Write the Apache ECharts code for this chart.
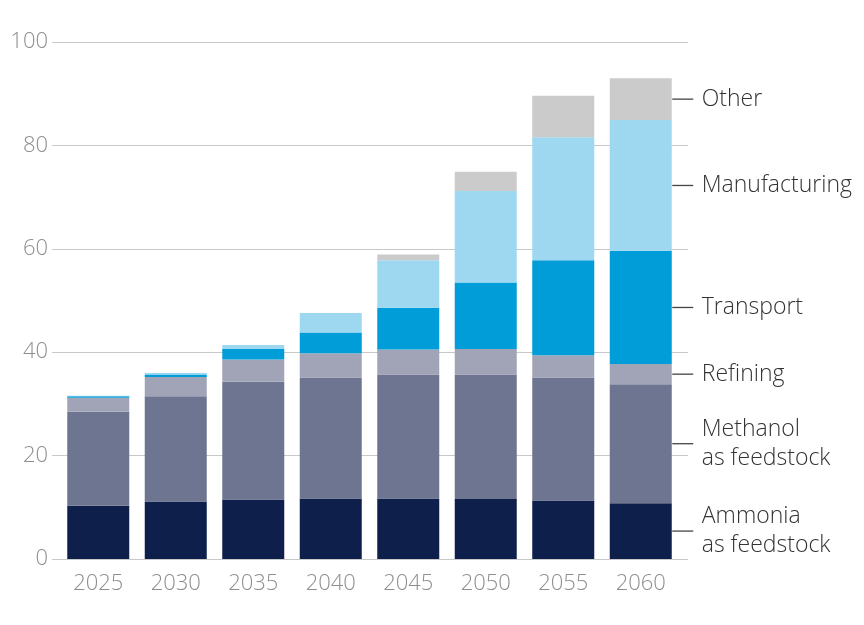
<!DOCTYPE html>
<html>
<head>
<meta charset="utf-8">
<script src="https://cdn.jsdelivr.net/npm/echarts@6/dist/echarts.min.js"></script>
<style>
html,body{margin:0;padding:0;background:#fff;}
#chart{width:864px;height:625px;}
</style>
</head>
<body>
<div id="chart"></div>
<script>
const years = ['2025','2030','2035','2040','2045','2050','2055','2060'];
const ammonia       = [10.3, 11.1, 11.5, 11.7, 11.7, 11.6, 11.3, 10.8];
const methanol      = [18.2, 20.4, 22.8, 23.4, 24.0, 24.1, 23.8, 23.0];
const refining      = [2.7, 3.7, 4.3, 4.7, 4.8, 4.9, 4.3, 3.9];
const transport     = [0.3, 0.5, 2.0, 4.0, 8.1, 12.9, 18.4, 21.9];
const manufacturing = [0.1, 0.3, 0.8, 3.8, 9.2, 17.7, 23.8, 25.3];
const other         = [0, 0, 0, 0, 1.1, 3.7, 8.0, 8.1];
const seriesNames = ['Ammonia\nas feedstock','Methanol\nas feedstock','Refining','Transport','Manufacturing','Other'];
const yTicks = [0, 20, 40, 60, 80, 100];

const seriesData = [ammonia, methanol, refining, transport, manufacturing, other];
const colors = ['#0f1f4b', '#6e7591', '#a0a4b6', '#009dd9', '#9dd8f0', '#cccbcb'];
const FONT = '"Open Sans", "Noto Sans", sans-serif';

const last = years.length - 1;
let cum = 0;
const labelData = seriesData.map((arr, i) => {
  const v = arr[last];
  const mid = cum + v / 2;
  cum += v;
  return [last, mid, i];
});

const barSeries = seriesData.map((arr, i) => ({
  type: 'bar',
  name: seriesNames[i],
  stack: 'total',
  xAxisIndex: 1,
  yAxisIndex: 1,
  barWidth: '80%',
  itemStyle: { color: colors[i] },
  data: arr
}));

const chart = echarts.init(document.getElementById('chart'), null, { renderer: 'canvas' });
chart.setOption({
  animation: false,
  backgroundColor: '#ffffff',
  grid: [
    { left: 52, right: 176, top: 42, bottom: 66 },
    { left: 59.5, right: 184.5, top: 42, bottom: 66 }
  ],
  xAxis: [
    { gridIndex: 0, type: 'category', data: years, show: false },
    {
      gridIndex: 1, type: 'category', data: years,
      axisLine: { show: false }, axisTick: { show: false },
      axisLabel: { color: '#8e8e8e', fontSize: 22, fontFamily: FONT, fontWeight: 300, margin: 14 }
    }
  ],
  yAxis: [
    {
      gridIndex: 0, type: 'value', min: yTicks[0], max: yTicks[yTicks.length - 1], interval: 20,
      axisLine: { show: false }, axisTick: { show: false },
      splitLine: { lineStyle: { color: '#c8c8c8', width: 1 } },
      axisLabel: { color: '#8e8e8e', fontSize: 22, fontFamily: FONT, fontWeight: 300, margin: 4 }
    },
    {
      gridIndex: 1, type: 'value', min: yTicks[0], max: yTicks[yTicks.length - 1], interval: 20,
      show: false, splitLine: { show: false }
    }
  ],
  series: barSeries.concat([{
    type: 'custom',
    xAxisIndex: 1,
    yAxisIndex: 1,
    clip: false,
    silent: true,
    data: labelData,
    renderItem: function (params, api) {
      const p = api.coord([api.value(0), api.value(1)]);
      const band = api.size([1, 0])[0];
      const half = band * 0.8 / 2;
      const x0 = p[0] + half + 0.5;
      return {
        type: 'group',
        children: [
          { type: 'line', shape: { x1: x0, y1: p[1], x2: x0 + 21, y2: p[1] },
            style: { stroke: '#444', lineWidth: 1.3 } },
          { type: 'text', x: x0 + 29.5, y: p[1],
            style: { text: seriesNames[api.value(2)], fill: '#333', fontSize: 23,
                     fontFamily: FONT, fontWeight: 300, lineHeight: 29,
                     align: 'left', verticalAlign: 'middle' } }
        ]
      };
    }
  }])
});
</script>
</body>
</html>
